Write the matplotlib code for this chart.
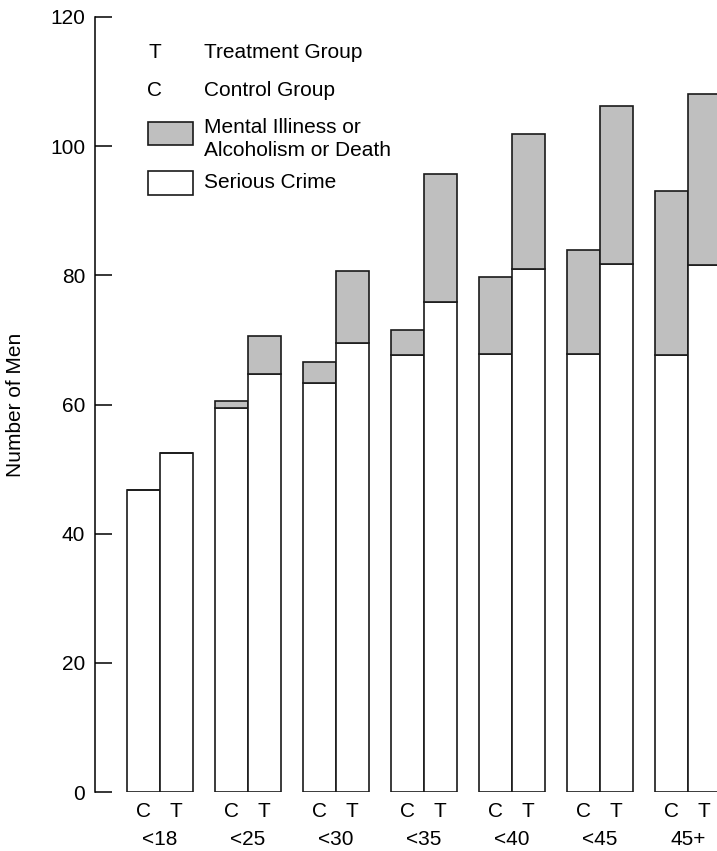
import matplotlib
matplotlib.use("Agg")
import matplotlib.pyplot as plt
from matplotlib.patches import Rectangle
import numpy as np

# ---- data ----
age_groups = ['<18', '<25', '<30', '<35', '<40', '<45', '45+']
control_crime = [46.8, 59.5, 63.4, 67.7, 67.8, 67.8, 67.7]
control_total = [46.8, 60.6, 66.6, 71.5, 79.8, 83.9, 93.0]
treatment_crime = [52.5, 64.7, 69.6, 75.9, 81.0, 81.8, 81.6]
treatment_total = [52.5, 70.6, 80.6, 95.7, 101.9, 106.2, 108.1]
y_ticks = [0, 20, 40, 60, 80, 100, 120]
group_letters = ['C', 'T']

plt.rcParams['font.family'] = ['Liberation Sans', 'DejaVu Sans']

W, H = 717, 851
fig = plt.figure(figsize=(W / 100, H / 100), dpi=100)

# axes placement in pixels: left spine at x=95, y=0 at 792, y=120 at 17
ax = fig.add_axes([95 / W, (H - 792) / H, 1 - 95 / W, (792 - 17) / H])

grey = '#bfbfbf'
edge = '#1a1a1a'
lw = 1.2
bw = 0.37
x = np.arange(len(age_groups))

cc = np.array(control_crime)
ct = np.array(control_total)
tc = np.array(treatment_crime)
tt = np.array(treatment_total)

xc = x - bw / 2
xt = x + bw / 2
ax.bar(xc, cc, width=bw, color='white', edgecolor=edge, linewidth=lw)
ax.bar(xc, ct - cc, bottom=cc, width=bw, color=grey, edgecolor=edge, linewidth=lw)
ax.bar(xt, tc, width=bw, color='white', edgecolor=edge, linewidth=lw)
ax.bar(xt, tt - tc, bottom=tc, width=bw, color=grey, edgecolor=edge, linewidth=lw)

ax.set_xlim(-65 / 88, (717 - 160) / 88)
ax.set_ylim(0, 120)

for s in ['top', 'right', 'bottom']:
    ax.spines[s].set_visible(False)
ax.spines['left'].set_linewidth(1.1)
ax.spines['left'].set_color('black')

ax.set_yticks(y_ticks)
ax.set_yticklabels([str(v) for v in y_ticks], fontsize=15)
ax.tick_params(axis='y', direction='in', length=12, width=1.1, pad=7)

xticks = np.concatenate([xc, xt])
xlabels = [group_letters[0]] * len(x) + [group_letters[1]] * len(x)
ax.set_xticks(xticks)
ax.set_xticklabels(xlabels, fontsize=15)
ax.tick_params(axis='x', length=0, pad=7)

for i, g in enumerate(age_groups):
    ax.annotate(g, xy=(x[i], 0), xycoords=('data', 'axes fraction'),
                xytext=(0, -34.5), textcoords='offset points',
                ha='center', va='center', fontsize=15, annotation_clip=False)

ax.set_ylabel('Number of Men', fontsize=15)
ax.yaxis.set_label_coords((25 - 95) / (W - 95), 0.5)

# ---- legend drawn by hand (pixel positions -> figure fraction) ----
def fx(px):
    return px / W

def fy(py):
    return 1 - py / H

fig.text(fx(155), fy(53), 'T', ha='center', va='center', fontsize=15)
fig.text(fx(204), fy(53), 'Treatment Group', ha='left', va='center', fontsize=15)
fig.text(fx(155), fy(91), 'C', ha='center', va='center', fontsize=15)
fig.text(fx(204), fy(91), 'Control Group', ha='left', va='center', fontsize=15)
fig.patches.append(Rectangle((fx(148), fy(145)), fx(193) - fx(148), fy(122) - fy(145),
                             transform=fig.transFigure, facecolor=grey, edgecolor=edge,
                             linewidth=lw))
fig.text(fx(204), fy(127), 'Mental Illiness or', ha='left', va='center', fontsize=15)
fig.text(fx(204), fy(150), 'Alcoholism or Death', ha='left', va='center', fontsize=15)
fig.patches.append(Rectangle((fx(148), fy(195)), fx(193) - fx(148), fy(171) - fy(195),
                             transform=fig.transFigure, facecolor='white', edgecolor=edge,
                             linewidth=lw))
fig.text(fx(204), fy(183), 'Serious Crime', ha='left', va='center', fontsize=15)

fig.savefig('out.png', dpi=100)
